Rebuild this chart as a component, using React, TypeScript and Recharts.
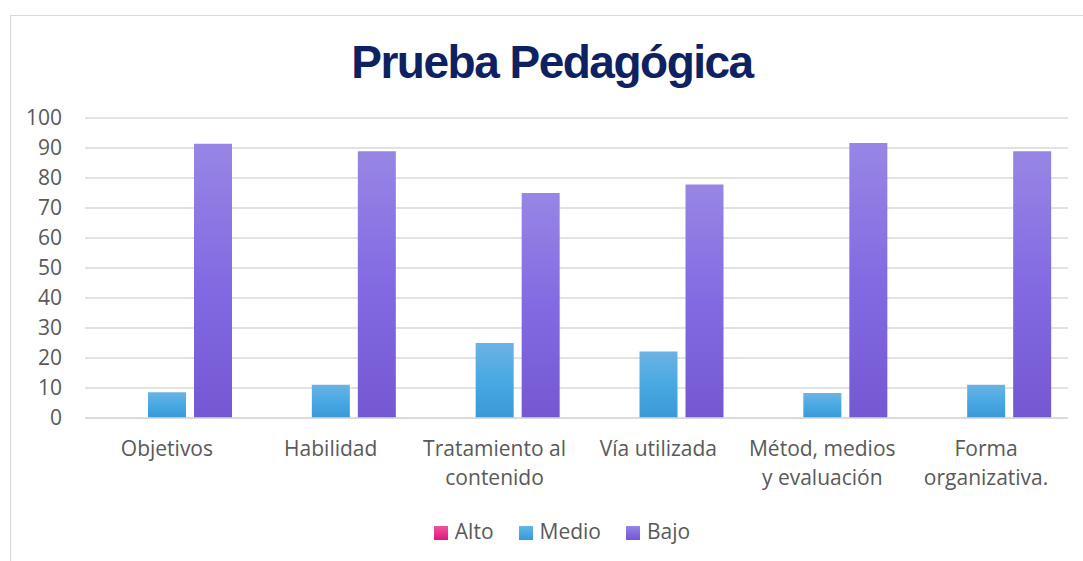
import { BarChart, Bar, XAxis, YAxis, CartesianGrid, Legend } from 'recharts'

const categories = [
  'Objetivos',
  'Habilidad',
  'Tratamiento al contenido',
  'Vía utilizada',
  'Métod, medios y evaluación',
  'Forma organizativa.',
]
const seriesNames = ['Alto', 'Medio', 'Bajo']
const alto = [0, 0, 0, 0, 0, 0]
const medio = [8.6, 11.1, 25.0, 22.2, 8.3, 11.1]
const bajo = [91.4, 88.9, 75.0, 77.8, 91.7, 88.9]
const yTicks = [0, 10, 20, 30, 40, 50, 60, 70, 80, 90, 100]

const data = categories.map((name, i) => ({
  name,
  Alto: alto[i],
  Medio: medio[i],
  Bajo: bajo[i],
}))

const FONT = '"Open Sans", "Noto Sans", sans-serif'
const GREY = '#595959'
const FS = 21

// wrap a label into lines of at most `max` characters
function wrap(label: string, max = 14): string[] {
  const lines: string[] = []
  let cur = ''
  for (const w of label.split(' ')) {
    const next = cur ? cur + ' ' + w : w
    if (next.length > max && cur) {
      lines.push(cur)
      cur = w
    } else {
      cur = next
    }
  }
  if (cur) lines.push(cur)
  return lines
}

function CategoryTick(props: any) {
  const { x, y, payload } = props
  const lines = wrap(payload.value)
  return (
    <text x={x} y={y} textAnchor="middle" fill={GREY} style={{ fontSize: FS, fontFamily: FONT }}>
      {lines.map((l, i) => (
        <tspan key={i} x={x} dy={i === 0 ? '0.71em' : '1.4em'}>
          {l}
        </tspan>
      ))}
    </text>
  )
}

export default function App() {
  return (
    <div style={{ position: 'relative', width: 1083, height: 561, overflow: 'hidden', background: '#fff' }}>
      <style>{'body{margin:0}'}</style>
      <div
        style={{
          position: 'absolute', left: 10, top: 15, width: 1090, height: 560,
          border: '1px solid #d9d9d9', boxSizing: 'border-box',
        }}
      />
      <div
        style={{
          position: 'absolute', left: 10, width: 1084, top: 37, textAlign: 'center',
          fontFamily: '"Liberation Sans", Arial, sans-serif', fontWeight: 700,
          fontSize: 46, letterSpacing: -1.5, color: '#0e2162', lineHeight: '50px',
        }}
      >
        Prueba Pedagógica
      </div>
      <div style={{ position: 'absolute', left: 0, top: 0 }}>
        <BarChart
          width={1083}
          height={561}
          data={data}
          margin={{ top: 118, right: 15, bottom: 16, left: 25 }}
          barSize={38}
          barGap={8}
        >
          <defs>
            <linearGradient id="altoGrad" x1="0" y1="0" x2="0" y2="1">
              <stop offset="0%" stopColor="#f0559e" />
              <stop offset="100%" stopColor="#e0167e" />
            </linearGradient>
            <linearGradient id="medioGrad" x1="0" y1="0" x2="0" y2="1">
              <stop offset="0%" stopColor="#6cb3e3" />
              <stop offset="50%" stopColor="#48a9e3" />
              <stop offset="100%" stopColor="#3a98d6" />
            </linearGradient>
            <linearGradient id="bajoGrad" x1="0" y1="0" x2="0" y2="1">
              <stop offset="0%" stopColor="#9886e5" />
              <stop offset="50%" stopColor="#836ae2" />
              <stop offset="100%" stopColor="#7458d2" />
            </linearGradient>
          </defs>
          <CartesianGrid vertical={false} stroke="#d9d9d9" strokeWidth={1.5} />
          <XAxis
            dataKey="name"
            height={99}
            axisLine={{ stroke: '#d9d9d9', strokeWidth: 1.5 }}
            tickLine={false}
            tickMargin={17}
            tick={<CategoryTick />}
            interval={0}
          />
          <YAxis
            width={60}
            domain={[0, 100]}
            ticks={yTicks}
            interval={0}
            axisLine={false}
            tickLine={false}
            tickMargin={17}
            tick={{ fontSize: FS, fill: GREY, fontFamily: FONT }}
          />
          <Legend
            verticalAlign="bottom"
            align="center"
            iconType="square"
            iconSize={14}
            itemSorter={(item: any) => seriesNames.indexOf(item.value)}
            wrapperStyle={{ fontSize: FS, fontFamily: FONT, paddingLeft: 28 }}
            formatter={(v: string) => (
              <span style={{ color: GREY, marginLeft: 3, marginRight: 15 }}>{v}</span>
            )}
          />
          <Bar dataKey="Alto" fill="url(#altoGrad)" isAnimationActive={false} />
          <Bar dataKey="Medio" fill="url(#medioGrad)" isAnimationActive={false} />
          <Bar dataKey="Bajo" fill="url(#bajoGrad)" isAnimationActive={false} />
        </BarChart>
      </div>
    </div>
  )
}
